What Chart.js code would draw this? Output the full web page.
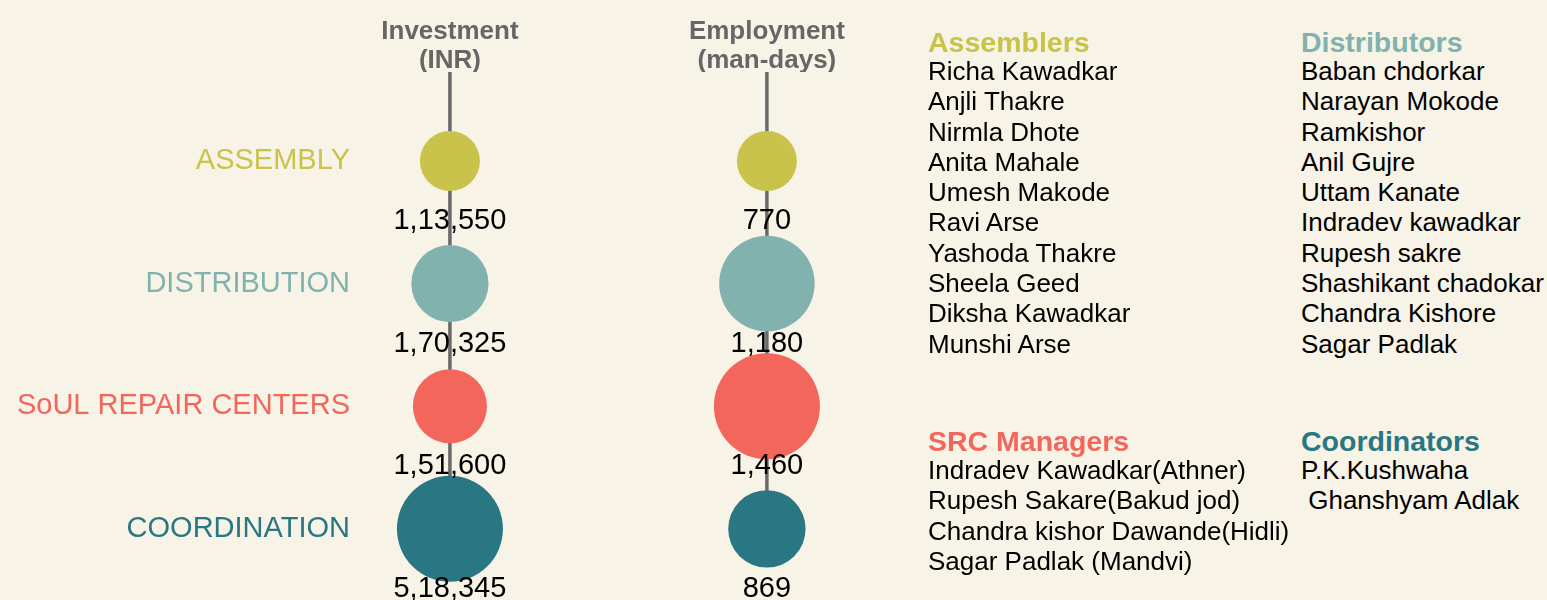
<!DOCTYPE html>
<html>
<head>
<meta charset="utf-8">
<script src="https://cdn.jsdelivr.net/npm/chart.js@4.4.1/dist/chart.umd.min.js"></script>
<style>
  html, body { margin: 0; padding: 0; background: #f7f3e6; }
  body { width: 1547px; height: 600px; position: relative; overflow: hidden; font-family: 'Liberation Sans', Arial, sans-serif; }
  /* bubble charts reserve room for the largest bubble on the right/bottom, so the box runs past the page */
  #chartBox { position: absolute; left: 0; top: 0; width: 973px; height: 653px; }
  .team { position: absolute; color: #000; font-size: 26px; line-height: 30.3px; white-space: pre; }
  .team .head { font-size: 28.5px; line-height: 28px; font-weight: bold; }
  #team0 { left: 928px; top: 28px; }
  #team1 { left: 1301px; top: 28px; }
  #team2 { left: 928px; top: 427px; }
  #team3 { left: 1301px; top: 427px; }
</style>
</head>
<body>
<div id="chartBox"><canvas id="chart"></canvas></div>
<div class="team" id="team0"></div>
<div class="team" id="team1"></div>
<div class="team" id="team2"></div>
<div class="team" id="team3"></div>
<script>
// activities (rows) and their colours
const categories = ['ASSEMBLY', 'DISTRIBUTION', 'SoUL REPAIR CENTERS', 'COORDINATION'];
const catColors = ['#c9c34b', '#81b2ae', '#f2665c', '#297783'];

// measures (columns)
const measures = [['Investment', '(INR)'], ['Employment', '(man-days)']];
const investment = [113550, 170325, 151600, 518345];
const employment = [770, 1180, 1460, 869];
const series = [investment, employment];

// people lists
const teamTitles = ['Assemblers', 'Distributors', 'SRC Managers', 'Coordinators'];
const assemblers = ['Richa Kawadkar', 'Anjli Thakre', 'Nirmla Dhote', 'Anita Mahale', 'Umesh Makode',
  'Ravi Arse', 'Yashoda Thakre', 'Sheela Geed', 'Diksha Kawadkar', 'Munshi Arse'];
const distributors = ['Baban chdorkar', 'Narayan Mokode', 'Ramkishor', 'Anil Gujre', 'Uttam Kanate',
  'Indradev kawadkar', 'Rupesh sakre', 'Shashikant chadokar', 'Chandra Kishore', 'Sagar Padlak'];
const srcManagers = ['Indradev Kawadkar(Athner)', 'Rupesh Sakare(Bakud jod)',
  'Chandra kishor Dawande(Hidli)', 'Sagar Padlak (Mandvi)'];
const coordinators = ['P.K.Kushwaha', ' Ghanshyam Adlak'];
const teams = [assemblers, distributors, srcManagers, coordinators];

teams.forEach((names, i) => {
  const box = document.getElementById('team' + i);
  const head = document.createElement('div');
  head.className = 'head';
  head.style.color = catColors[i];
  head.textContent = teamTitles[i];
  box.appendChild(head);
  names.forEach(n => {
    const d = document.createElement('div');
    d.textContent = n;
    box.appendChild(d);
  });
});

// 1,13,550 style grouping
function indianFormat(n) {
  const s = String(n);
  if (s.length <= 3) return s;
  const last3 = s.slice(-3);
  const rest = s.slice(0, -3).replace(/\B(?=(\d{2})+(?!\d))/g, ',');
  return rest + ',' + last3;
}

// bubble size grows with the value, per column
function radiusScale(values) {
  const lo = Math.min(...values), hi = Math.max(...values);
  return v => 30 + 23 * Math.sqrt((v - lo) / (hi - lo));
}

const datasets = series.map((vals, col) => {
  const rad = radiusScale(vals);
  return {
    label: measures[col].join(' '),
    data: vals.map((v, i) => ({ x: col, y: i, r: rad(v), v: v })),
    backgroundColor: catColors,
    borderWidth: 0,
    clip: false
  };
});

const stemPlugin = {
  id: 'stems',
  beforeDatasetsDraw(chart) {
    const { ctx, chartArea, scales } = chart;
    ctx.save();
    ctx.strokeStyle = '#696969';
    ctx.lineWidth = 3.5;
    measures.forEach((m, i) => {
      const px = scales.x.getPixelForValue(i);
      ctx.beginPath();
      ctx.moveTo(px, chartArea.top);
      ctx.lineTo(px, scales.y.getPixelForValue(categories.length - 1));
      ctx.stroke();
    });
    ctx.restore();
  },
  afterDatasetsDraw(chart) {
    const ctx = chart.ctx;
    ctx.save();
    ctx.fillStyle = '#000';
    ctx.font = "29px 'Liberation Sans', Arial, sans-serif";
    ctx.textAlign = 'center';
    ctx.textBaseline = 'middle';
    chart.data.datasets.forEach((ds, di) => {
      chart.getDatasetMeta(di).data.forEach((el, i) => {
        ctx.fillText(indianFormat(ds.data[i].v), el.x, el.y + 60);
      });
    });
    ctx.restore();
  }
};

new Chart(document.getElementById('chart'), {
  type: 'bubble',
  data: { datasets: datasets },
  plugins: [stemPlugin],
  options: {
    responsive: true,
    maintainAspectRatio: false,
    animation: false,
    events: [],
    layout: { padding: 0 },
    plugins: { legend: { display: false }, tooltip: { enabled: false } },
    scales: {
      x: {
        type: 'linear',
        position: 'top',
        min: -0.29,
        max: 1.483,
        afterBuildTicks: s => { s.ticks = measures.map((m, i) => ({ value: i })); },
        afterFit: s => { s.height = 72; },
        grid: { display: false, drawTicks: false },
        border: { display: false },
        ticks: {
          padding: -3,
          autoSkip: false,
          maxRotation: 0,
          color: '#666',
          font: { family: "'Liberation Sans', Arial, sans-serif", size: 26, weight: 'bold', lineHeight: 1.1 },
          callback: v => measures[v]
        }
      },
      y: {
        type: 'linear',
        reverse: true,
        min: -0.725,
        max: 3.58,
        afterBuildTicks: s => { s.ticks = categories.map((c, i) => ({ value: i })); },
        afterFit: s => { s.width = 358; },
        grid: { display: false, drawTicks: false },
        border: { display: false },
        ticks: {
          padding: 8,
          autoSkip: false,
          font: { family: "'Liberation Sans', Arial, sans-serif", size: 29 },
          color: ctx => catColors[ctx.index],
          callback: v => categories[v]
        }
      }
    }
  }
});
</script>
</body>
</html>
